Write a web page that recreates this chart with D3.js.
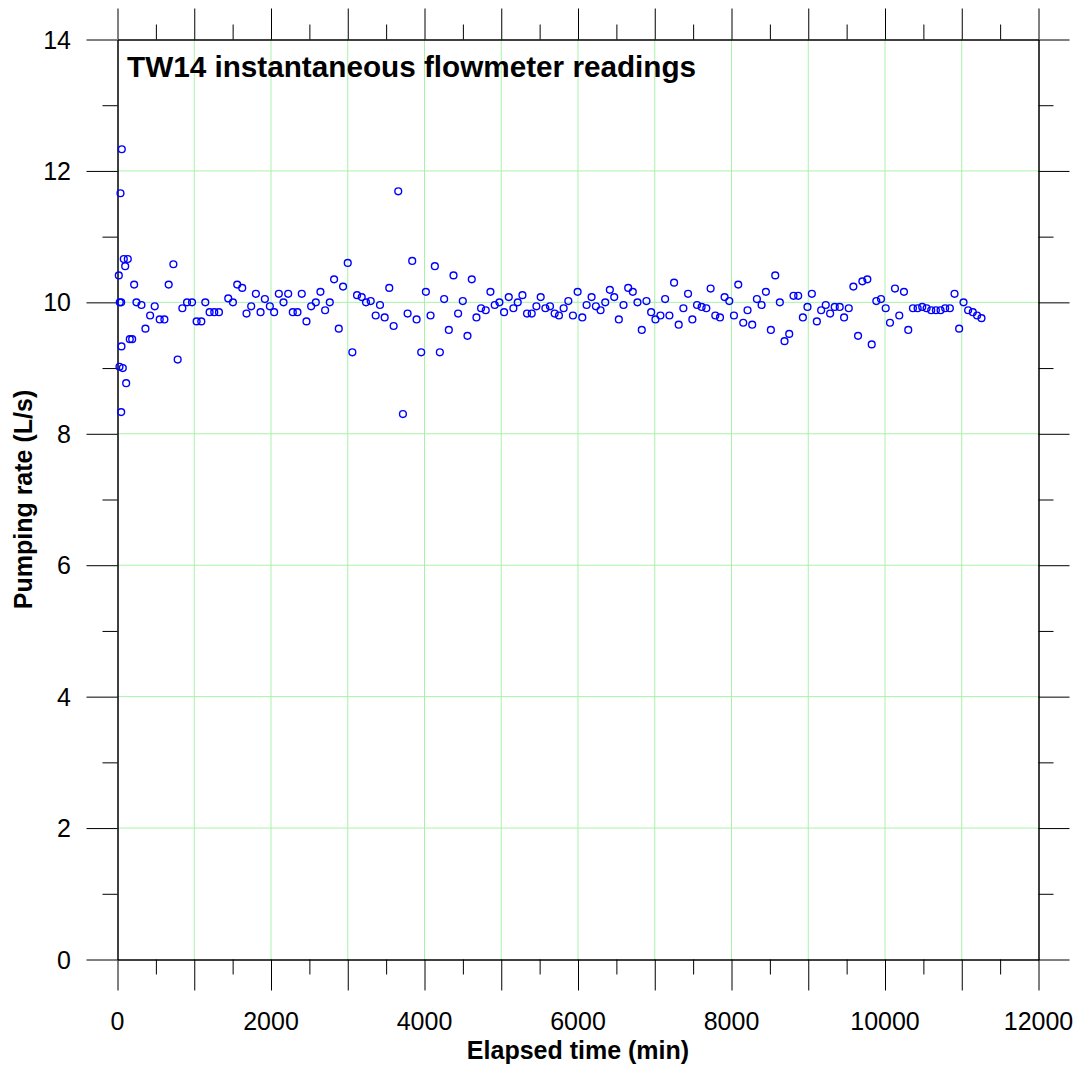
<!DOCTYPE html>
<html>
<head>
<meta charset="utf-8">
<script src="https://cdn.jsdelivr.net/npm/d3@7/dist/d3.min.js"></script>
<style>
  html, body { margin: 0; padding: 0; background: #fff; }
  svg { display: block; }
  text { font-family: Arial, "Liberation Sans", Helvetica, sans-serif; fill: #000; }
</style>
</head>
<body>
<svg id="chart" width="1081" height="1070"></svg>
<script>
// Flowmeter readings for TW14: elapsed time (min) and pumping rate (L/s)
const elapsedMin = [
  17, 26, 30, 39, 48, 48, 52, 56, 69, 82, 100, 113, 134, 160, 191, 217, 247, 312, 364, 425,
  485, 550, 611, 667, 728, 784, 845, 906, 971, 1031, 1092, 1144, 1200, 1261, 1322, 1443, 1504, 1560, 1625, 1681,
  1742, 1803, 1864, 1920, 1985, 2041, 2102, 2163, 2224, 2284, 2345, 2401, 2462, 2523, 2584, 2644, 2705, 2766, 2822, 2883,
  2939, 3000, 3060, 3121, 3182, 3238, 3299, 3364, 3420, 3481, 3541, 3598, 3658, 3719, 3780, 3840, 3897, 3957, 4018, 4079,
  4135, 4200, 4256, 4317, 4378, 4438, 4499, 4560, 4616, 4677, 4737, 4798, 4859, 4915, 4976, 5037, 5098, 5158, 5215, 5276,
  5336, 5397, 5458, 5514, 5575, 5635, 5696, 5752, 5813, 5874, 5934, 5995, 6056, 6112, 6177, 6233, 6294, 6355, 6415, 6472,
  6532, 6593, 6654, 6714, 6775, 6831, 6892, 6953, 7009, 7074, 7135, 7191, 7252, 7312, 7373, 7434, 7490, 7551, 7611, 7672,
  7728, 7789, 7850, 7910, 7971, 8032, 8088, 8153, 8209, 8270, 8331, 8392, 8448, 8513, 8570, 8630, 8691, 8752, 8808, 8869,
  8930, 8990, 9047, 9112, 9168, 9228, 9285, 9345, 9410, 9467, 9528, 9588, 9649, 9705, 9770, 9827, 9887, 9948, 10009, 10065,
  10130, 10186, 10247, 10303, 10364, 10425, 10485, 10542, 10602, 10663, 10724, 10784, 10845, 10906, 10966, 11023, 11083, 11144, 11200, 11257
];
const pumpRate = [
  10.41, 9.02, 10.0, 11.66, 10.0, 8.33, 9.33, 12.33, 9.0, 10.66, 10.55, 8.77, 10.66, 9.44, 9.44, 10.27, 10.0, 9.96, 9.60, 9.80,
  9.94, 9.74, 9.74, 10.27, 10.58, 9.13, 9.91, 10.0, 10.0, 9.71, 9.71, 10.0, 9.85, 9.85, 9.85, 10.06, 10.0, 10.27, 10.22, 9.83,
  9.94, 10.13, 9.85, 10.05, 9.94, 9.85, 10.13, 10.0, 10.13, 9.85, 9.85, 10.13, 9.71, 9.94, 10.0, 10.16, 9.88, 10.0, 10.35, 9.60,
  10.24, 10.60, 9.24, 10.11, 10.08, 10.0, 10.02, 9.80, 9.96, 9.77, 10.22, 9.64, 11.69, 8.30, 9.83, 10.63, 9.74, 9.24, 10.16, 9.80,
  10.55, 9.24, 10.05, 9.58, 10.41, 9.83, 10.02, 9.49, 10.35, 9.77, 9.91, 9.88, 10.16, 9.96, 10.0, 9.85, 10.08, 9.91, 10.0, 10.11,
  9.83, 9.83, 9.94, 10.08, 9.91, 9.94, 9.83, 9.80, 9.91, 10.02, 9.80, 10.16, 9.77, 9.96, 10.08, 9.94, 9.88, 10.0, 10.19, 10.08,
  9.74, 9.96, 10.22, 10.16, 10.0, 9.58, 10.02, 9.85, 9.74, 9.80, 10.05, 9.80, 10.30, 9.66, 9.91, 10.13, 9.74, 9.96, 9.93, 9.91,
  10.21, 9.80, 9.77, 10.08, 10.02, 9.80, 10.27, 9.69, 9.88, 9.66, 10.05, 9.96, 10.16, 9.58, 10.41, 10.0, 9.41, 9.52, 10.10, 10.10,
  9.77, 9.93, 10.13, 9.71, 9.88, 9.96, 9.83, 9.93, 9.93, 9.77, 9.91, 10.24, 9.49, 10.32, 10.35, 9.36, 10.02, 10.05, 9.91, 9.69,
  10.21, 9.80, 10.16, 9.58, 9.91, 9.91, 9.93, 9.91, 9.88, 9.88, 9.88, 9.91, 9.91, 10.13, 9.60, 10.0, 9.88, 9.85, 9.80, 9.76
];

// Axis ticks
const xMajorTicks = d3.range(0, 12001, 1000);
const xMinorTicks = d3.range(500, 12000, 1000);
const xTickLabels = d3.range(0, 12001, 2000);
const yMajorTicks = d3.range(0, 15, 2);
const yMinorTicks = d3.range(1, 14, 2);
const yTickLabels = d3.range(0, 15, 2);

const chartTitle = "TW14 instantaneous flowmeter readings";
const xTitle = "Elapsed time (min)";
const yTitle = "Pumping rate (L/s)";

const svg = d3.select("#chart");
const plotL = 117.5, plotR = 1038.5, plotT = 39.5, plotB = 959.5;

const x = d3.scaleLinear().domain([0, 12000]).range([plotL, plotR]);
const y = d3.scaleLinear().domain([0, 14]).range([plotB, plotT]);

const gridColor = "#a8f2a8";
const majorLen = 31, minorLen = 15;

// Grid lines
const grid = svg.append("g").attr("stroke", gridColor).attr("stroke-width", 1);
grid.selectAll("line.vx").data(xMajorTicks.filter(d => d > 0 && d < 12000)).join("line")
  .attr("x1", d => x(d)).attr("x2", d => x(d)).attr("y1", plotT).attr("y2", plotB);
grid.selectAll("line.hy").data(yMajorTicks.filter(d => d > 0 && d < 14)).join("line")
  .attr("x1", plotL).attr("x2", plotR).attr("y1", d => y(d)).attr("y2", d => y(d));

// Outward ticks on all four sides
function addAxis(gen, transform, ticks, len) {
  const g = svg.append("g").attr("transform", transform)
    .call(gen.tickValues(ticks).tickSize(len).tickSizeOuter(0).tickFormat(""));
  g.select(".domain").attr("stroke", "#000").attr("stroke-width", 1);
  g.selectAll(".tick line").attr("stroke", "#000").attr("stroke-width", 1);
  return g;
}
addAxis(d3.axisBottom(x), `translate(0,${plotB})`, xMajorTicks, majorLen);
addAxis(d3.axisBottom(x), `translate(0,${plotB})`, xMinorTicks, minorLen);
addAxis(d3.axisTop(x), `translate(0,${plotT})`, xMajorTicks, majorLen);
addAxis(d3.axisTop(x), `translate(0,${plotT})`, xMinorTicks, minorLen);
addAxis(d3.axisLeft(y), `translate(${plotL},0)`, yMajorTicks, majorLen);
addAxis(d3.axisLeft(y), `translate(${plotL},0)`, yMinorTicks, minorLen);
addAxis(d3.axisRight(y), `translate(${plotR},0)`, yMajorTicks, majorLen);
addAxis(d3.axisRight(y), `translate(${plotR},0)`, yMinorTicks, minorLen);

// Tick labels
svg.append("g").selectAll("text").data(xTickLabels).join("text")
  .attr("x", d => x(d)).attr("y", 1030)
  .attr("text-anchor", "middle").attr("font-size", 25)
  .text(d => d);
svg.append("g").selectAll("text").data(yTickLabels).join("text")
  .attr("x", 71).attr("y", d => y(d) + 9)
  .attr("text-anchor", "end").attr("font-size", 25)
  .text(d => d);

// Axis titles
svg.append("text")
  .attr("x", (plotL + plotR) / 2).attr("y", 1059)
  .attr("text-anchor", "middle").attr("font-size", 25).attr("font-weight", "bold")
  .text(xTitle);
svg.append("text")
  .attr("transform", `translate(32,${(plotT + plotB) / 2}) rotate(-90)`)
  .attr("text-anchor", "middle").attr("font-size", 25).attr("font-weight", "bold")
  .text(yTitle);

// Chart title inside the plot
svg.append("text")
  .attr("x", 127).attr("y", 77)
  .attr("font-size", 29.7).attr("font-weight", "bold")
  .text(chartTitle);

// Readings as open circles
const pts = elapsedMin.map((t, i) => ({ t, q: pumpRate[i] }));
svg.append("g").selectAll("circle").data(pts).join("circle")
  .attr("cx", d => x(d.t)).attr("cy", d => y(d.q))
  .attr("r", 3.4)
  .attr("fill", "none").attr("stroke", "#0000ff").attr("stroke-width", 1.4);
</script>
</body>
</html>
